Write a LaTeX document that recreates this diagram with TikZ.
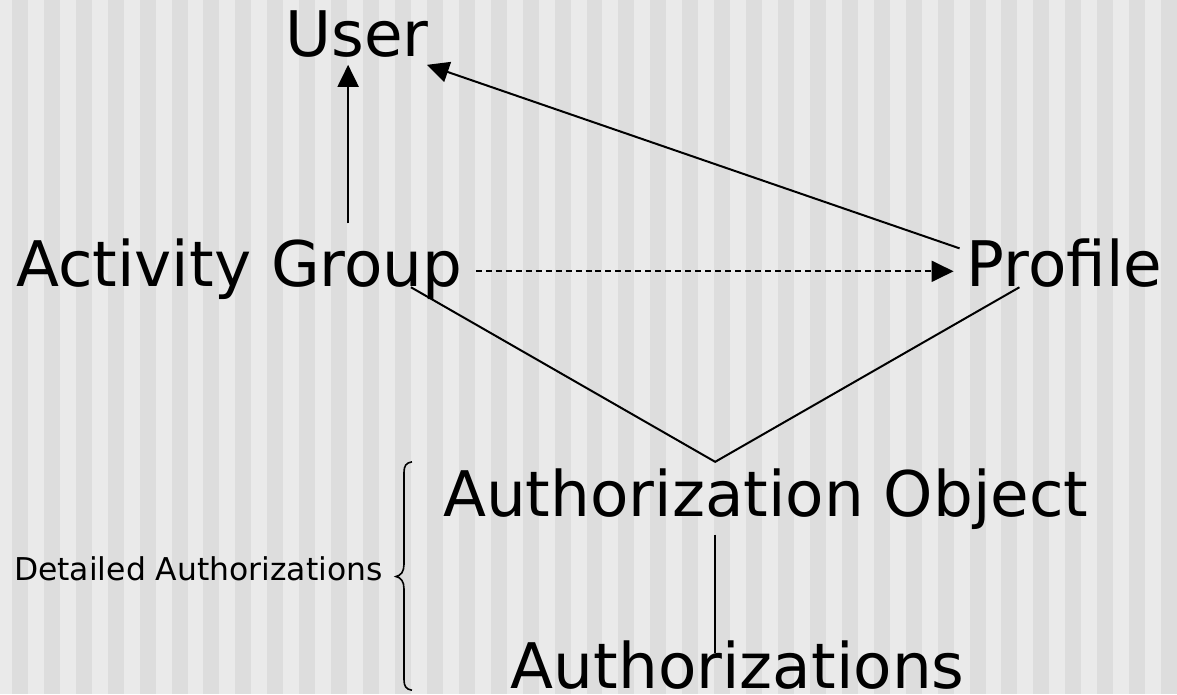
\documentclass[tikz,border=0pt]{standalone}
\usepackage{fontspec}
\setmainfont{DejaVu Sans}
\usetikzlibrary{arrows.meta}
\definecolor{stripelight}{HTML}{EAEAEA}
\definecolor{stripedark}{HTML}{DDDDDD}
\tikzset{
  label big/.style={anchor=base west, inner sep=0pt, font=\fontsize{63}{70}\selectfont},
  label small/.style={anchor=base west, inner sep=0pt, font=\fontsize{31.5}{36}\selectfont},
  conn/.style={line width=2pt, black},
  arrowconn/.style={conn, -{Triangle[length=22pt,width=21pt]}},
  dashconn/.style={arrowconn, dash pattern=on 6pt off 4pt},
}
\begin{document}
\begin{tikzpicture}[x=1pt, y=-1pt]
  % background stripes
  \fill[stripelight] (0,0) rectangle (1177,696);
  \foreach \i in {0,...,36} {
    \fill[stripedark] ({12+32*\i},0) rectangle ({28+32*\i},696);
  }
  \useasboundingbox (0,0) rectangle (1177,696);

  % text nodes
  \node[label big] (user) at (286,57) {User};
  \node[label big] (ag) at (16,287) {Activity Group};
  \node[label big] (prof) at (969,287) {Profile};
  \node[label big] (ao) at (444,518) {Authorization Object};
  \node[label big] (auth) at (512,690) {Authorizations};
  \node[label small] (det) at (14,582) {Detailed Authorizations};

  % connector end points
  \coordinate (agTop) at (349,224);
  \coordinate (userBottomA) at (349,65);
  \coordinate (profTop) at (962,249);
  \coordinate (userBottomB) at (428,65);
  \coordinate (agRight) at (477,272);
  \coordinate (profLeft) at (956,272);
  \coordinate (agLow) at (412,288);
  \coordinate (profLow) at (1022,288);
  \coordinate (aoTop) at (717,463);
  \coordinate (aoBottom) at (717,536);
  \coordinate (authTop) at (717,655);

  % connectors
  \draw[arrowconn] (agTop) -- (userBottomA);
  \draw[arrowconn] (profTop) -- (userBottomB);
  \draw[dashconn] (agRight) -- (profLeft);
  \draw[conn] (agLow) -- (aoTop) -- (profLow);
  \draw[conn, line width=1.5pt] (aoBottom) -- (authTop);

  % brace
  \draw[line width=1.6pt] (413,463) .. controls (407,464) and (405,467) .. (405,474)
    -- (405,566) .. controls (405,573) and (402,577) .. (397,578)
    .. controls (402,579) and (405,583) .. (405,590)
    -- (405,681) .. controls (405,688) and (407,691) .. (413,692);
\end{tikzpicture}
\end{document}
